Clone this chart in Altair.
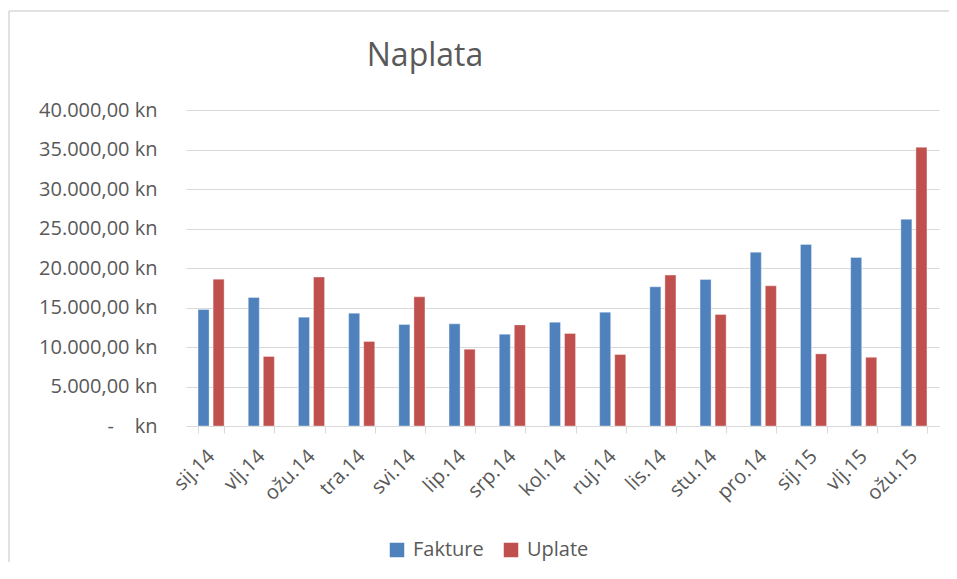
import altair as alt
import pandas as pd

months = ["sij.14", "vlj.14", "ožu.14", "tra.14", "svi.14", "lip.14", "srp.14", "kol.14",
          "ruj.14", "lis.14", "stu.14", "pro.14", "sij.15", "vlj.15", "ožu.15"]
fakture = [14750, 16270, 13780, 14280, 12850, 12930, 11620, 13140,
           14410, 17620, 18550, 22000, 22990, 21340, 26160]
uplate = [18590, 8800, 18850, 10700, 16350, 9720, 12800, 11710,
          9050, 19100, 14120, 17740, 9130, 8700, 35280]
series = ["Fakture", "Uplate"]
colors = ["#4F81BD", "#C0504D"]
y_ticks = [0, 5000, 10000, 15000, 20000, 25000, 30000, 35000, 40000]
title_text = ["Naplata"]

rows = []
for m, f, u in zip(months, fakture, uplate):
    rows.append({"mjesec": m, "serija": series[0], "iznos": f})
    rows.append({"mjesec": m, "serija": series[1], "iznos": u})
df = pd.DataFrame(rows)

FONT = "Open Sans"
GREY = "#595959"

bars = alt.Chart(df).mark_bar(stroke="white", strokeWidth=0.6, strokeOpacity=0.6).encode(
    x=alt.X("mjesec:N", sort=months, title=None,
            scale=alt.Scale(paddingInner=0.48, paddingOuter=0.24),
            axis=alt.Axis(labelAngle=-45, labelAlign="right", labelBaseline="middle",
                          labelPadding=20, tickBand="extent", tickSize=7,
                          tickColor="#d9d9d9", domainColor="#d9d9d9", domainWidth=1,
                          labelFont=FONT, labelFontSize=20, labelColor=GREY, grid=False)),
    xOffset=alt.XOffset("serija:N", sort=series,
                        scale=alt.Scale(paddingInner=0.267, paddingOuter=0)),
    y=alt.Y("iznos:Q", title=None,
            scale=alt.Scale(domain=[0, 40000], nice=False),
            axis=alt.Axis(values=y_ticks, domain=False, ticks=False, labelPadding=29,
                          labelExpr="datum.value == 0 ? '-\u00a0\u00a0\u00a0\u00a0kn' : format(datum.value / 1000, '.0f') + '.000,00 kn'",
                          gridColor="#d9d9d9", gridWidth=1.2,
                          labelFont=FONT, labelFontSize=20, labelColor=GREY)),
    color=alt.Color("serija:N", sort=series,
                    scale=alt.Scale(domain=series, range=colors),
                    legend=alt.Legend(title=None, orient="none", direction="horizontal",
                                      legendX=201, legendY=430, symbolType="square",
                                      symbolSize=210, symbolStrokeWidth=0,
                                      labelFont=FONT, labelFontSize=20, labelColor=GREY,
                                      labelOffset=6, columnPadding=17)),
)

title = alt.Chart(pd.DataFrame({"t": title_text})).mark_text(
    font=FONT, fontSize=32, color=GREY, align="center", baseline="alphabetic"
).encode(text="t:N", x=alt.value(239), y=alt.value(-44))

border_left = alt.Chart(alt.Data(values=[{}])).mark_rule(
    stroke="#d9d9d9", strokeWidth=1.5
).encode(x=alt.value(-177), y=alt.value(-99), y2=alt.value(460))

border_top = alt.Chart(alt.Data(values=[{}])).mark_rule(
    stroke="#d9d9d9", strokeWidth=1.5
).encode(x=alt.value(-177), x2=alt.value(763), y=alt.value(-99))

chart = alt.layer(border_left, border_top, title, bars).properties(
    width=753, height=316,
    padding={"left": 178, "top": 102, "right": 10, "bottom": 136},
    autosize=alt.AutoSizeParams(type="none"),
).configure_view(stroke=None)

chart.save("out.html", embed_options={"renderer": "svg", "actions": False})
